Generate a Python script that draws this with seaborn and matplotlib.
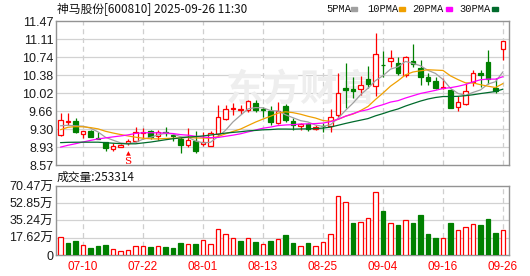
import numpy as np
import pandas as pd
import matplotlib
matplotlib.use("Agg")
import matplotlib.pyplot as plt
import seaborn as sns

# ---------------- data ----------------
dates = ["07-07", "07-08", "07-09", "07-10", "07-11", "07-14", "07-15", "07-16", "07-17", "07-18",
         "07-21", "07-22", "07-23", "07-24", "07-25", "07-28", "07-29", "07-30", "07-31", "08-01",
         "08-04", "08-05", "08-06", "08-07", "08-08", "08-11", "08-12", "08-13", "08-14", "08-15",
         "08-18", "08-19", "08-20", "08-21", "08-22", "08-25", "08-26", "08-27", "08-28", "08-29",
         "09-01", "09-02", "09-03", "09-04", "09-05", "09-08", "09-09", "09-10", "09-11", "09-12",
         "09-15", "09-16", "09-17", "09-18", "09-19", "09-22", "09-23", "09-24", "09-25", "09-26"]

open_ = [9.18, 9.44, 9.46, 9.19, 9.25, 9.11, 9.03, 8.90, 8.94, 9.01,
         9.06, 9.22, 9.25, 9.15, 9.24, 9.18, 9.10, 8.97, 9.05, 8.99,
         8.96, 9.19, 9.50, 9.70, 9.68, 9.68, 9.81, 9.70, 9.66, 9.41,
         9.76, 9.45, 9.35, 9.39, 9.30, 9.36, 9.35, 9.57, 10.12, 10.11,
         10.10, 10.30, 10.17, 10.59, 10.67, 10.63, 10.39, 10.66, 10.53, 10.34,
         10.26, 10.12, 10.09, 9.73, 9.80, 10.25, 10.42, 10.64, 10.13, 10.90]
high = [9.61, 9.61, 9.51, 9.26, 9.27, 9.23, 9.04, 9.02, 8.99, 9.09,
        9.34, 9.31, 9.27, 9.27, 9.34, 9.20, 9.14, 9.31, 9.25, 9.24,
        9.25, 9.78, 9.78, 9.81, 9.78, 9.88, 9.88, 9.73, 9.76, 9.83,
        9.79, 9.51, 9.42, 9.41, 9.37, 9.41, 9.70, 10.42, 10.63, 10.35,
        10.36, 10.56, 11.22, 10.86, 10.89, 10.75, 10.77, 11.01, 10.69, 10.42,
        10.35, 10.33, 10.11, 9.96, 10.23, 10.48, 10.49, 10.89, 10.32, 11.07]
low = [9.16, 9.37, 9.22, 9.11, 9.13, 9.09, 8.86, 8.86, 8.93, 8.98,
       9.04, 9.10, 9.09, 9.07, 9.15, 9.06, 8.82, 8.93, 8.81, 8.96,
       8.95, 9.14, 9.48, 9.58, 9.59, 9.64, 9.64, 9.54, 9.38, 9.39,
       9.44, 9.27, 9.27, 9.25, 9.28, 9.24, 9.24, 9.54, 9.71, 9.92,
       9.98, 10.13, 9.96, 10.35, 10.55, 10.38, 10.35, 10.55, 10.18, 10.18,
       10.11, 10.10, 9.71, 9.66, 9.78, 10.17, 10.15, 10.20, 10.03, 10.69]
close = [9.48, 9.45, 9.24, 9.25, 9.14, 9.10, 8.91, 8.95, 8.98, 9.05,
         9.23, 9.24, 9.13, 9.23, 9.22, 9.15, 8.97, 9.07, 8.86, 9.03,
         9.21, 9.54, 9.70, 9.71, 9.69, 9.86, 9.67, 9.68, 9.43, 9.65,
         9.48, 9.37, 9.39, 9.29, 9.34, 9.35, 9.54, 10.03, 10.09, 10.07,
         10.19, 10.20, 10.80, 10.58, 10.73, 10.43, 10.74, 10.60, 10.34, 10.27,
         10.12, 10.13, 9.71, 9.83, 10.07, 10.42, 10.38, 10.30, 10.07, 11.07]
# volume in 万 shares
volume = [18.8, 12.0, 14.0, 10.6, 6.8, 8.9, 9.9, 6.5, 4.5, 5.5,
          9.6, 9.6, 7.9, 9.6, 7.9, 6.8, 12.0, 11.6, 10.9, 15.7,
          11.6, 27.0, 21.9, 17.8, 14.0, 17.8, 13.0, 11.6, 14.0, 16.7,
          20.0, 11.9, 9.6, 11.9, 9.6, 13.7, 21.8, 60.6, 54.5, 32.4,
          34.1, 38.2, 64.7, 44.6, 33.1, 30.3, 35.4, 32.4, 40.5, 21.1,
          17.1, 17.8, 32.4, 25.2, 29.0, 32.1, 30.3, 36.5, 22.2, 25.33]
# closes before the visible window (estimated from where the MA lines start)
prior_close = [9.25, 9.18, 9.22, 9.15, 9.10, 9.20, 9.28, 9.22, 9.18, 9.22,
               8.70, 8.62, 8.55, 8.50, 8.52, 8.48, 8.55, 8.60, 8.62, 8.66,
               8.95, 9.12, 9.28, 9.30, 9.35, 9.40, 9.30, 9.28, 9.34]

ma_periods = [5, 10, 20, 30]
ma_names = ["5PMA", "10PMA", "20PMA", "30PMA"]
ma_colors = ["#a0a0a0", "#f0a000", "#ff00ff", "#006b2c"]

price_ticks = [8.57, 8.9325, 9.295, 9.6575, 10.02, 10.3825, 10.745, 11.1075, 11.47]
price_tick_labels = ["8.57", "8.93", "9.30", "9.66", "10.02", "10.38", "10.74", "11.11", "11.47"]
vol_ticks = [0, 17.62, 35.24, 52.85, 70.47]
vol_tick_labels = ["0", "17.62万", "35.24万", "52.85万", "70.47万"]
xlabel_dates = ["07-10", "07-22", "08-01", "08-13", "08-25", "09-04", "09-16", "09-26"]

title = "神马股份[600810] 2025-09-26 11:30"
vol_title = "成交量:253314"
signal_date = "07-18"
watermark = "东方财富"

# ---------------- derived table ----------------
n = len(dates)
idx = np.arange(n)
df = pd.DataFrame({"i": idx, "date": dates, "open": open_, "high": high,
                   "low": low, "close": close, "volume": volume})
all_close = pd.Series(prior_close + close)
for p, name in zip(ma_periods, ma_names):
    df[name] = all_close.rolling(p).mean().iloc[-n:].values
prev_close = pd.Series(prior_close[-1:] + close[:-1])
df["vol_up"] = (df["close"].values >= prev_close.values)

RED = "#ff0000"
GREEN = "#008000"

sns.set_theme(style="white")
plt.rcParams["font.family"] = ["Liberation Sans", "Noto Sans CJK SC", "DejaVu Sans"]

fig = plt.figure(figsize=(5.30, 2.76), dpi=100)
W, H = 530.0, 276.0
ax = fig.add_axes([56 / W, 1 - 165 / H, 453 / W, 144 / H])
axv = fig.add_axes([56 / W, 1 - 255 / H, 453 / W, 69 / H])

xlim = (-0.6, n - 0.2)
label_pos = [dates.index(d) for d in xlabel_dates]

for a in (ax, axv):
    a.set_xlim(*xlim)
    a.set_facecolor("white")
    for s in a.spines.values():
        s.set_color("#939393")
        s.set_linewidth(1.0)
    for xp in label_pos:
        a.axvline(xp, color="#cfcfcf", lw=0.9, ls=(0, (4, 3)), zorder=0)
    a.tick_params(axis="both", length=0, pad=2)

# ---- price panel ----
ax.set_ylim(price_ticks[0], price_ticks[-1])
for yv in price_ticks[1:-1]:
    ax.axhline(yv, color="#d2d2d2", lw=0.9, zorder=0)
ax.set_yticks(price_ticks)
ax.set_yticklabels(price_tick_labels, fontsize=9, color="#1a1a1a")
ax.set_xticks([])

ax.text(0.54, 0.52, watermark, transform=ax.transAxes, fontsize=27,
        family=["Noto Sans CJK SC"], fontweight="bold", color="#eeeeee",
        ha="center", va="center", zorder=0)

for _, r in df.iterrows():
    is_up = r["close"] >= r["open"]
    col = RED if is_up else GREEN
    ax.vlines(r["i"], r["low"], r["high"], color=col, lw=0.9, zorder=3)
    lo = min(r["open"], r["close"])
    hgt = max(abs(r["close"] - r["open"]), 0.012)
    ax.bar(r["i"], hgt, bottom=lo, width=0.6,
           facecolor="white" if is_up else GREEN,
           edgecolor=col, linewidth=0.9, zorder=4)

for name, c in zip(ma_names, ma_colors):
    sns.lineplot(data=df, x="i", y=name, ax=ax, color=c, lw=0.9, zorder=5, legend=False)
ax.set_xlabel("")
ax.set_ylabel("")
ax.set_xlim(*xlim)

# signal marker below the candle
si = dates.index(signal_date)
ax.annotate("\u25B2", xy=(si, df.loc[si, "low"]), xytext=(0, -6.5), textcoords="offset points",
            ha="center", va="center", color=RED, fontsize=4.5, family=["DejaVu Sans"], zorder=6)
ax.annotate("S", xy=(si, df.loc[si, "low"]), xytext=(0, -12), textcoords="offset points",
            ha="center", va="center", color=RED, fontsize=7.5, family=["DejaVu Serif"], zorder=6,
            annotation_clip=False)

# ---- volume panel ----
axv.set_ylim(vol_ticks[0], vol_ticks[-1])
for yv in vol_ticks[1:-1]:
    axv.axhline(yv, color="#d2d2d2", lw=0.9, zorder=0)
axv.set_yticks(vol_ticks)
axv.set_yticklabels(vol_tick_labels, fontsize=9, color="#1a1a1a")
for _, r in df.iterrows():
    if r["vol_up"]:
        axv.bar(r["i"], r["volume"], width=0.58, facecolor="white", edgecolor=RED,
                linewidth=0.9, zorder=3)
    else:
        axv.bar(r["i"], r["volume"], width=0.58, facecolor=GREEN, edgecolor=GREEN,
                linewidth=0.9, zorder=3)
axv.set_xticks(label_pos)
axv.set_xticklabels(xlabel_dates, fontsize=8.5, color=RED)
axv.tick_params(axis="x", pad=4)

# ---- texts ----
fig.text(57 / W, 1 - 9 / H, title, fontsize=8.5, family=["Noto Sans CJK SC"],
         color="#111111", ha="left", va="center")
fig.text(57 / W, 1 - 177 / H, vol_title, fontsize=8.5, family=["Noto Sans CJK SC"],
         color="#111111", ha="left", va="center")

leg_text_x = [326, 367, 412, 459]
leg_rect_x = [351, 399, 446, 492]
for name, c, tx, rx in zip(ma_names, ma_colors, leg_text_x, leg_rect_x):
    fig.text(tx / W, 1 - 9 / H, name, fontsize=7.5, family=["Liberation Mono"],
             color="#111111", ha="left", va="center")
    fig.patches.append(plt.Rectangle((rx / W, (H - 11) / H), 6 / W, 4 / H,
                                     transform=fig.transFigure, color=c, figure=fig))

fig.savefig("out.png", dpi=100, facecolor="white")
